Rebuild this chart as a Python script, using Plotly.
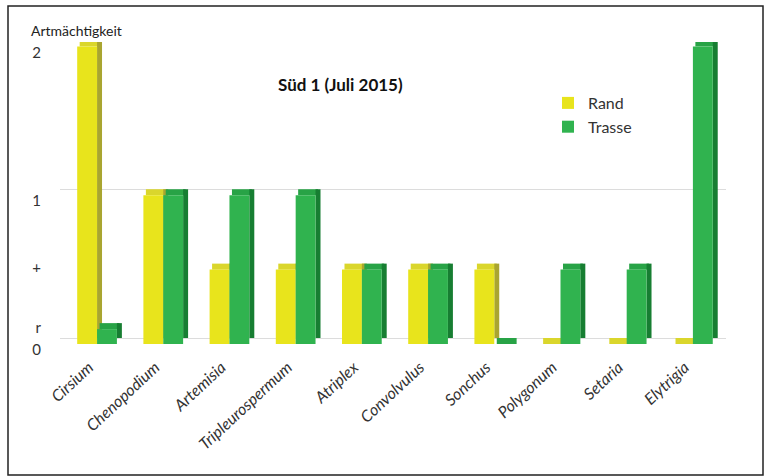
import plotly.graph_objects as go

categories = ["Cirsium", "Chenopodium", "Artemisia", "Tripleurospermum", "Atriplex",
              "Convolvulus", "Sonchus", "Polygonum", "Setaria", "Elytrigia"]
rand = [2, 1, 0.5, 0.5, 0.5, 0.5, 0.5, 0, 0, 0]
trasse = [0.1, 1, 1, 1, 0.5, 0.5, 0, 0.5, 0.5, 2]
tick_vals = [0, 0.15, 0.55, 1, 2]
tick_text = ["0", "r", "+", "1", "2"]
grid_vals = [0, 1, 2]

W, H = 765, 476
L, R, T, B = 60, 39, 42, 132
pw, ph = W - L - R, H - T - B
YMAX = 2.03
unit = ph / YMAX
depth = 6 / unit          # 3D depth in data units
sidew = 5 / (pw / len(categories))

labels = [f"<i>{c}</i>" for c in categories]

series = [
    ("Rand", rand, -0.3, "#E8E41C", "#A9A530", "#DAD62C"),
    ("Trasse", trasse, 0.0, "#30B34F", "#177E32", "#28A346"),
]

fig = go.Figure()
for name, vals, off, front, side, top in series:
    # top face
    fig.add_trace(go.Bar(x=labels, y=[depth] * len(vals), base=vals, offset=off + sidew / 2,
                         width=0.3, marker=dict(color=top, line=dict(width=0)),
                         showlegend=False, hoverinfo="skip"))
    # side face
    fig.add_trace(go.Bar(x=labels, y=vals, base=[depth] * len(vals), offset=off + 0.3,
                         width=sidew, marker=dict(color=side, line=dict(width=0)),
                         showlegend=False, hoverinfo="skip"))
    # front face
    fig.add_trace(go.Bar(x=labels, y=vals, offset=off, width=0.3, name=name,
                         marker=dict(color=front, line=dict(width=0))))

# gridlines on an overlay axis (back wall, shifted by depth)
fig.add_trace(go.Scatter(x=[labels[0]], y=[None], yaxis="y2", showlegend=False,
                         hoverinfo="skip"))

def px_x(p):
    return (p - L) / pw

def px_y(p):
    return (H - B - p) / ph

fig.update_layout(
    width=W, height=H,
    margin=dict(l=L, r=R, t=T, b=B),
    barmode="overlay",
    paper_bgcolor="white", plot_bgcolor="white",
    font=dict(family="Lato, Open Sans, sans-serif", color="#333333", size=14),
    xaxis=dict(tickangle=-43, showgrid=False, showline=False, ticks="", automargin=False,
               ticklabelstandoff=10, ticklabelshift=-8,
               tickfont=dict(size=16, color="#333333")),
    yaxis=dict(range=[0, YMAX], tickvals=tick_vals, ticktext=tick_text, automargin=False,
               showgrid=False, zeroline=False, showline=False, ticks="",
               ticklabelstandoff=18, ticklabelshift=6,
               tickfont=dict(size=15, color="#333333")),
    yaxis2=dict(range=[0, YMAX], overlaying="y", tickvals=[g + depth for g in grid_vals],
                showticklabels=False, showgrid=True, gridcolor="#DCDCDC", gridwidth=1,
                zeroline=False, showline=False, automargin=False),
    legend=dict(x=px_x(548), y=px_y(86), xanchor="left", yanchor="top",
                bgcolor="rgba(0,0,0,0)", font=dict(size=16, color="#333333"),
                itemwidth=30, tracegroupgap=2),
    annotations=[
        dict(text="<b>Süd 1 (Juli 2015)</b>", x=px_x(340), y=px_y(72), xref="paper",
             yref="paper", showarrow=False, font=dict(size=17, color="#111111")),
        dict(text="Artmächtigkeit", x=px_x(29), y=px_y(31), xref="paper", yref="paper",
             xanchor="left", yanchor="middle", showarrow=False,
             font=dict(size=14, color="#222222")),
    ],
    shapes=[
        dict(type="rect", xref="paper", yref="paper", x0=px_x(8), x1=px_x(763),
             y0=px_y(475), y1=px_y(6), line=dict(color="#222222", width=1.5),
             layer="below"),
    ],
)

fig.write_html("out.html")
